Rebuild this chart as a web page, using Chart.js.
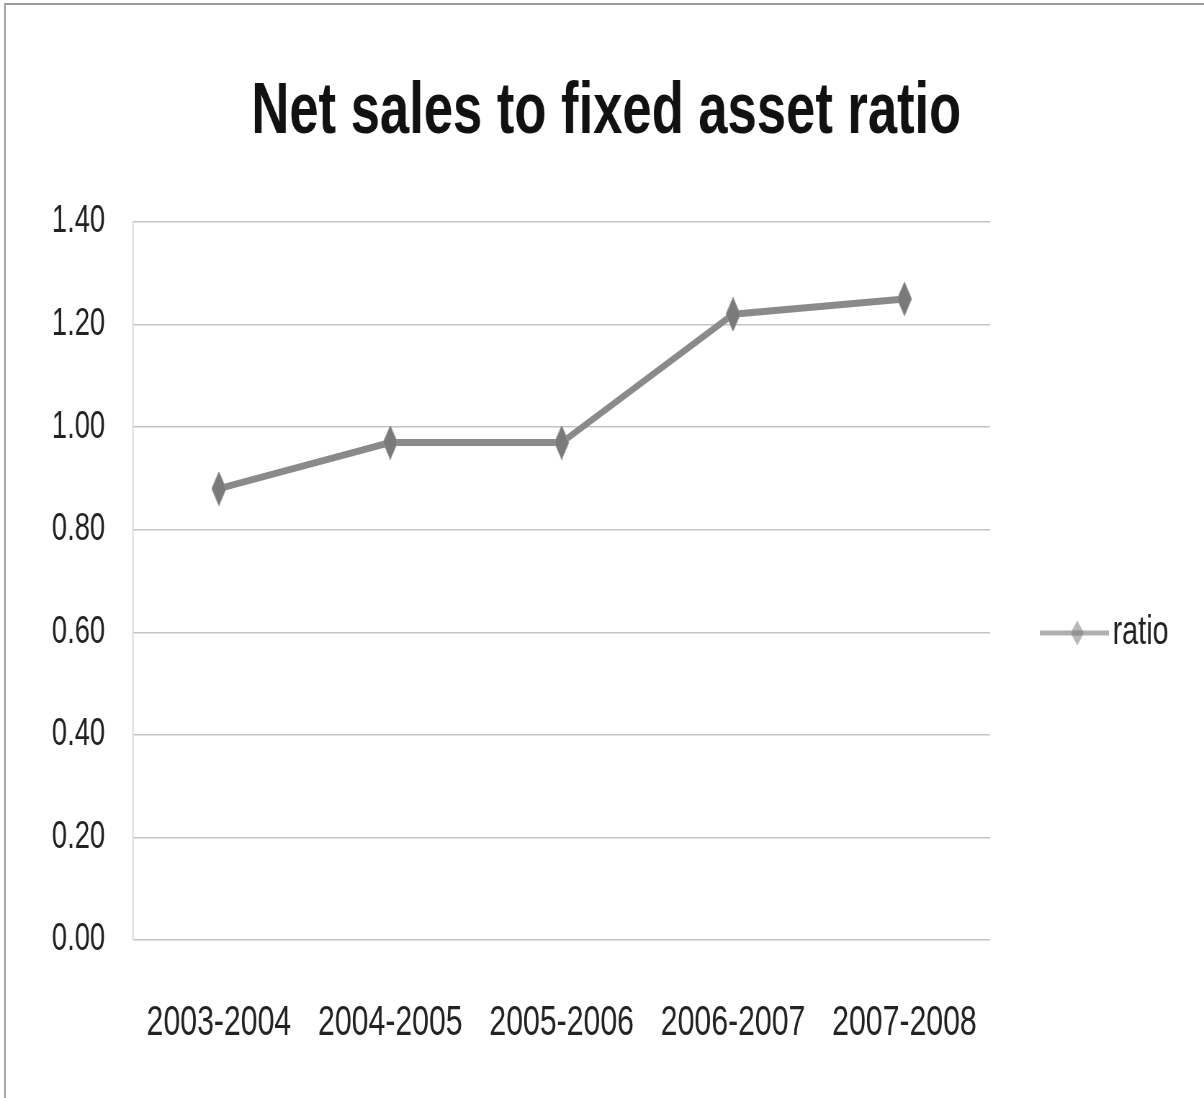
<!DOCTYPE html>
<html>
<head>
<meta charset="utf-8">
<script src="https://cdn.jsdelivr.net/npm/chart.js@4"></script>
<style>
    html, body { margin: 0; padding: 0; background: #fff; }
    #wrap { position: relative; width: 1204px; height: 1098px; overflow: hidden; }
    #frame { position: absolute; left: 4px; top: 3px; right: -4px; bottom: -4px;
             border-top: 2px solid #9a9a9a; border-left: 2px solid #aaaaaa; pointer-events: none; }
</style>
</head>
<body>
<div id="wrap">
    <!-- drawn wide, shown narrow: gives the condensed lettering -->
    <canvas id="ratioChart" width="1672" height="1098" style="width:1204px;height:1098px"></canvas>
    <div id="frame"></div>
</div>
<script>
const years = ['2003-2004', '2004-2005', '2005-2006', '2006-2007', '2007-2008'];
const ratio = [0.88, 0.97, 0.97, 1.22, 1.25];
const yTicks = [0, 0.2, 0.4, 0.6, 0.8, 1.0, 1.2, 1.4];
const titleText = 'Net sales to fixed asset ratio';

const lineColor = '#8a8a8a';
const markColor = '#7a7a7a';
const fontFamily = '"Liberation Sans", Arial, sans-serif';

function makeDiamond(w, h) {
    const c = document.createElement('canvas');
    c.width = w; c.height = h;
    const g = c.getContext('2d');
    g.beginPath();
    g.moveTo(w / 2, 0);
    g.lineTo(w, h / 2);
    g.lineTo(w / 2, h);
    g.lineTo(0, h / 2);
    g.closePath();
    g.fillStyle = markColor;
    g.fill();
    g.strokeStyle = '#9a9a9a';
    g.lineWidth = 1;
    g.stroke();
    return c;
}
const diamond = makeDiamond(20, 34);
const smallDiamond = makeDiamond(18, 24);

// title centred over the whole canvas, not just the plot
const chartTitle = {
    id: 'chartTitle',
    afterDraw(chart) {
        const ctx = chart.ctx;
        ctx.save();
        ctx.fillStyle = '#111';
        ctx.font = 'bold 73px ' + fontFamily;
        ctx.textAlign = 'center';
        ctx.textBaseline = 'alphabetic';
        ctx.fillText(titleText, 842, 133);
        ctx.restore();
    }
};

// legend on the right: line with diamond, then the series name
const sideLegend = {
    id: 'sideLegend',
    afterDraw(chart) {
        const ctx = chart.ctx;
        const y = 633;
        ctx.save();
        ctx.strokeStyle = '#b0b0b0';
        ctx.lineWidth = 5;
        ctx.beginPath();
        ctx.moveTo(1444, y);
        ctx.lineTo(1540, y);
        ctx.stroke();
        ctx.globalAlpha = 0.55;
        ctx.drawImage(smallDiamond, 1496 - 9, y - 12);
        ctx.globalAlpha = 1;
        ctx.fillStyle = '#222';
        ctx.font = '40px ' + fontFamily;
        ctx.textAlign = 'left';
        ctx.textBaseline = 'middle';
        ctx.fillText(chart.data.datasets[0].label, 1545, y);
        ctx.restore();
    }
};

new Chart(document.getElementById('ratioChart'), {
    type: 'line',
    data: {
        labels: years,
        datasets: [{
            label: 'ratio',
            data: ratio,
            borderColor: lineColor,
            borderWidth: 7,
            pointStyle: diamond,
            pointRadius: 12,
            tension: 0
        }]
    },
    options: {
        responsive: false,
        animation: false,
        layout: { padding: { left: 0, right: 297, top: 222, bottom: 0 } },
        plugins: {
            legend: { display: false },
            tooltip: { enabled: false },
            title: { display: false }
        },
        scales: {
            x: {
                offset: true,
                grid: { display: false, drawTicks: false },
                border: { display: false },
                ticks: {
                    color: '#222',
                    font: { family: fontFamily, size: 42 },
                    padding: 58,
                    autoSkip: false,
                    maxRotation: 0
                },
                afterFit(scale) { scale.height = 158; }
            },
            y: {
                min: 0,
                max: 1.4,
                afterBuildTicks(scale) { scale.ticks = yTicks.map(v => ({ value: v })); },
                grid: { color: '#c4c4c4', lineWidth: 1.5, drawTicks: false },
                border: { color: '#d0d0d0', width: 1.5 },
                ticks: {
                    color: '#222',
                    font: { family: fontFamily, size: 38 },
                    padding: 39,
                    callback: v => Number(v).toFixed(2)
                },
                afterFit(scale) { scale.width = 185; }
            }
        }
    },
    plugins: [chartTitle, sideLegend]
});
</script>
</body>
</html>
